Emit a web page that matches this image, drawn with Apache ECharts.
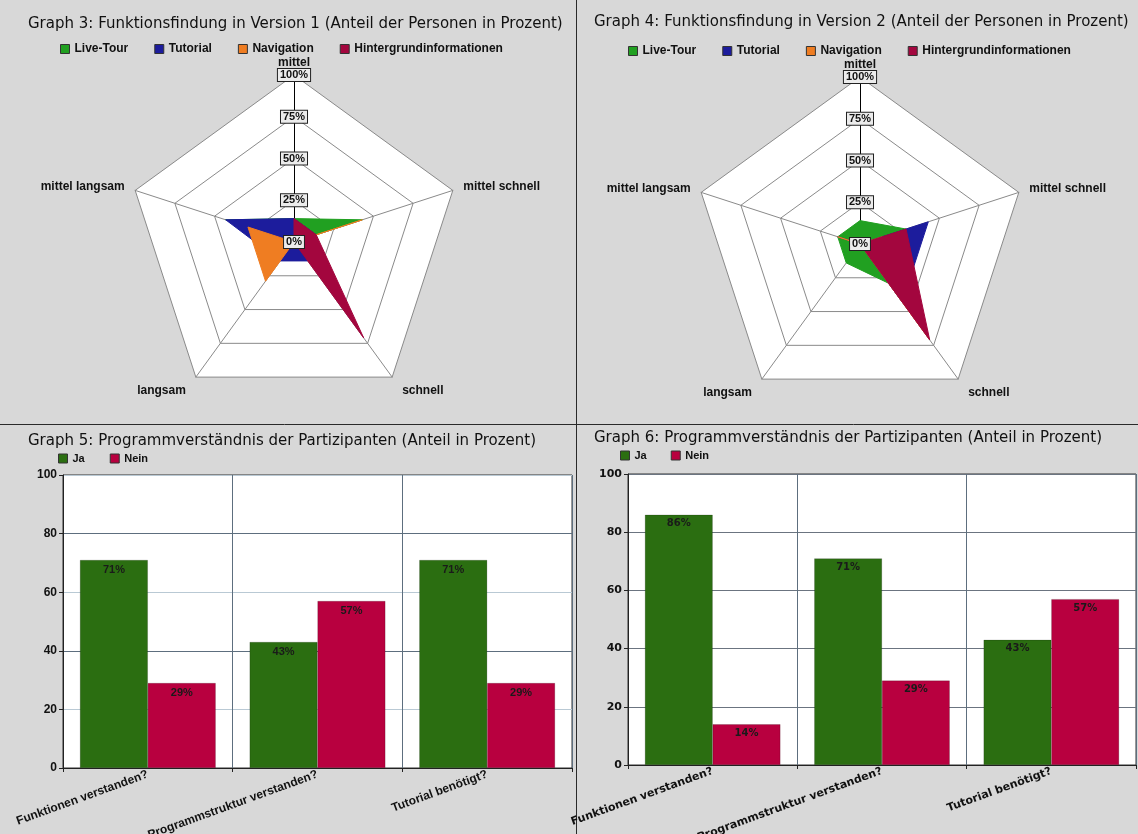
<!DOCTYPE html>
<html>
<head>
<meta charset="utf-8">
<script src="https://cdn.jsdelivr.net/npm/echarts@6/dist/echarts.min.js"></script>
<style>
  html, body { margin: 0; padding: 0; background: #d8d8d8; }
  #main { width: 1138px; height: 834px; }
</style>
</head>
<body>
<div id="main"></div>
<script>
// Radar axes, listed counter-clockwise starting at the top
const radarAxes = ['mittel', 'mittel langsam', 'langsam', 'schnell', 'mittel schnell'];
const radarSeriesNames = ['Live-Tour', 'Tutorial', 'Navigation', 'Hintergrundinformationen'];

// Version 1 (percent of persons)
const liveTour1     = [14, 43, 0, 0, 43];
const tutorial1     = [14, 43, 14, 14, 14];
const navigation1   = [0, 29, 29, 0, 43];
const hintergrund1  = [14, 0, 0, 71, 14];

// Version 2 (percent of persons)
const liveTour2     = [14, 14, 14, 29, 29];
const tutorial2     = [0, 14, 0, 43, 43];
const navigation2   = [0, 14, 0, 71, 14];
const hintergrund2  = [0, 0, 0, 71, 29];

// Bar charts
const barCategories = ['Funktionen verstanden?', 'Programmstruktur verstanden?', 'Tutorial benötigt?'];
const ja5   = [71, 43, 71];
const nein5 = [29, 57, 29];
const ja6   = [86, 71, 43];
const nein6 = [14, 29, 57];

const radarColors = ['#21a021', '#1c1c9c', '#ef7d22', '#a3063e'];
const barColors = { ja: '#2b6e11', nein: '#b8003f' };

const ARIAL = '"Liberation Sans", Arial, sans-serif';
const DEJAVU = '"DejaVu Sans", Verdana, sans-serif';

// Web, spokes and axis names (drawn beneath the series)
function radarWeb(center) {
  return {
    center: center,
    radius: 167,
    startAngle: 90,
    splitNumber: 4,
    shape: 'polygon',
    z: 0,
    indicator: radarAxes.map((name, i) => {
      const ind = { name: name, min: 0, max: 100 };
      if (i === 0) {
        ind.nameGap = 6;
        ind.axisLine = { show: true, lineStyle: { color: '#000', width: 1 } };
      }
      if (name === 'langsam' || name === 'schnell') {
        ind.nameGap = 17;
      }
      return ind;
    }),
    axisNameGap: 11,
    axisName: { color: '#111', fontFamily: ARIAL, fontWeight: 'bold', fontSize: 12 },
    axisLine: { show: true, lineStyle: { color: '#8a8a8a', width: 1 } },
    axisTick: { show: false },
    axisLabel: { show: false },
    splitLine: { show: true, lineStyle: { color: '#8a8a8a', width: 1 } },
    splitArea: { show: true, areaStyle: { color: ['#ffffff'] } }
  };
}

// Percentage labels on the top axis (drawn above the series)
function radarScale(center) {
  return {
    center: center,
    radius: 167,
    startAngle: 90,
    splitNumber: 4,
    shape: 'polygon',
    z: 10,
    indicator: radarAxes.map((name, i) => {
      const ind = { name: name, min: 0, max: 100 };
      if (i === 0) {
        ind.axisLabel = {
          show: true, showMinLabel: true, showMaxLabel: true, hideOverlap: false,
          margin: 0, align: 'center', verticalAlign: 'middle',
          formatter: '{value}%', fontFamily: ARIAL, fontWeight: 'bold', fontSize: 11,
          color: '#111', backgroundColor: '#ececec', borderColor: '#222', borderWidth: 1,
          padding: [1, 2, 0, 2]
        };
      }
      return ind;
    }),
    axisName: { show: false },
    axisLine: { show: false },
    axisTick: { show: false },
    axisLabel: { show: false },
    splitLine: { show: false },
    splitArea: { show: false }
  };
}

function radarSeries(radarIndex, rows) {
  return {
    type: 'radar',
    radarIndex: radarIndex,
    symbol: 'none',
    silent: true,
    z: 2,
    data: rows.map((vals, i) => ({
      name: radarSeriesNames[i],
      value: vals,
      itemStyle: { color: radarColors[i] },
      lineStyle: { color: radarColors[i], width: 1, opacity: 1 },
      areaStyle: { color: radarColors[i], opacity: 1 }
    }))
  };
}

function radarLegend(left, top) {
  return {
    left: left, top: top, orient: 'horizontal', padding: 0,
    data: radarSeriesNames,
    icon: 'rect', itemWidth: 9, itemHeight: 9, itemGap: 26,
    itemStyle: { borderColor: '#333', borderWidth: 1 },
    textStyle: { fontFamily: ARIAL, fontWeight: 'bold', fontSize: 12, color: '#111' },
    selectedMode: false
  };
}

function barLegend(left, top, gap) {
  return {
    left: left, top: top, padding: 0,
    data: ['Ja', 'Nein'],
    icon: 'rect', itemWidth: 9, itemHeight: 9, itemGap: gap,
    itemStyle: { borderColor: '#333', borderWidth: 1 },
    textStyle: { fontFamily: ARIAL, fontWeight: 'bold', fontSize: 11, color: '#111' },
    selectedMode: false
  };
}

function barXAxis(gridIndex, font, size) {
  return {
    type: 'category', gridIndex: gridIndex, data: barCategories,
    axisLine: { show: true, lineStyle: { color: '#222' } },
    axisTick: { show: true, length: 4, lineStyle: { color: '#222' } },
    axisLabel: { rotate: 20, margin: 6, fontFamily: font, fontWeight: 'bold', fontSize: size, color: '#111' },
    splitLine: { show: true, lineStyle: { color: '#5d6e7e', width: 1 } }
  };
}

function barYAxis(gridIndex, font, size, lineColors) {
  return {
    type: 'value', gridIndex: gridIndex, min: 0, max: 100, interval: 20,
    axisLine: { show: true, lineStyle: { color: '#222' } },
    axisTick: { show: true, length: 4, lineStyle: { color: '#222' } },
    axisLabel: { fontFamily: font, fontWeight: 'bold', fontSize: size, color: '#111', margin: 6 },
    splitLine: { show: true, lineStyle: { color: lineColors, width: 1 } }
  };
}

function barSeries(name, data, idx, color, font, size) {
  return {
    type: 'bar', name: name, xAxisIndex: idx, yAxisIndex: idx, data: data,
    barGap: '0%', barCategoryGap: '20%',
    itemStyle: { color: color, borderColor: 'rgba(0,0,0,0.35)', borderWidth: 0.5 },
    label: {
      show: true, position: 'insideTop', distance: 4, formatter: '{c}%',
      fontFamily: font, fontWeight: 'bold', fontSize: size, color: '#1a1a1a'
    },
    silent: true
  };
}

const titleStyle = { fontFamily: DEJAVU, fontWeight: 'normal', fontSize: 15, color: '#111' };

const option = {
  backgroundColor: '#d8d8d8',
  animation: false,
  title: [
    { text: 'Graph 3: Funktionsfindung in Version 1 (Anteil der Personen in Prozent)', left: 23, top: 12, textStyle: titleStyle },
    { text: 'Graph 4: Funktionsfindung in Version 2 (Anteil der Personen in Prozent)', left: 589, top: 10, textStyle: titleStyle },
    { text: 'Graph 5: Programmverständnis der Partizipanten (Anteil in Prozent)', left: 23, top: 429, textStyle: titleStyle },
    { text: 'Graph 6: Programmverständnis der Partizipanten (Anteil in Prozent)', left: 589, top: 426, textStyle: titleStyle }
  ],
  legend: [
    radarLegend(60, 43),
    radarLegend(628, 45),
    barLegend(58, 453, 25),
    barLegend(620, 450, 24)
  ],
  radar: [
    radarWeb([294, 242]),
    radarWeb([860, 244]),
    radarScale([294, 242]),
    radarScale([860, 244])
  ],
  grid: [
    { left: 63, top: 475, width: 509, height: 293, show: true, backgroundColor: '#fff', borderColor: '#333', borderWidth: 1, containLabel: false, outerBoundsMode: 'none' },
    { left: 628, top: 474, width: 508, height: 291, show: true, backgroundColor: '#fff', borderColor: '#333', borderWidth: 1, containLabel: false, outerBoundsMode: 'none' }
  ],
  xAxis: [
    barXAxis(0, ARIAL, 12),
    barXAxis(1, DEJAVU, 11)
  ],
  yAxis: [
    barYAxis(0, ARIAL, 12, ['#5d6e7e', '#b9c9d4']),
    barYAxis(1, DEJAVU, 11, ['#6b7480'])
  ],
  series: [
    radarSeries(0, [liveTour1, tutorial1, navigation1, hintergrund1]),
    radarSeries(1, [liveTour2, tutorial2, navigation2, hintergrund2]),
    barSeries('Ja', ja5, 0, barColors.ja, ARIAL, 11),
    barSeries('Nein', nein5, 0, barColors.nein, ARIAL, 11),
    barSeries('Ja', ja6, 1, barColors.ja, DEJAVU, 10),
    barSeries('Nein', nein6, 1, barColors.nein, DEJAVU, 10)
  ],
  graphic: [
    // panel separators
    { type: 'line', shape: { x1: 576.5, y1: 0, x2: 576.5, y2: 834 }, style: { stroke: '#2a2a2a', lineWidth: 1 }, silent: true },
    { type: 'line', shape: { x1: 0, y1: 424.5, x2: 1138, y2: 424.5 }, style: { stroke: '#2a2a2a', lineWidth: 1 }, silent: true }
  ]
};

const chart = echarts.init(document.getElementById('main'), null, { renderer: 'canvas' });
chart.setOption(option);
</script>
</body>
</html>
